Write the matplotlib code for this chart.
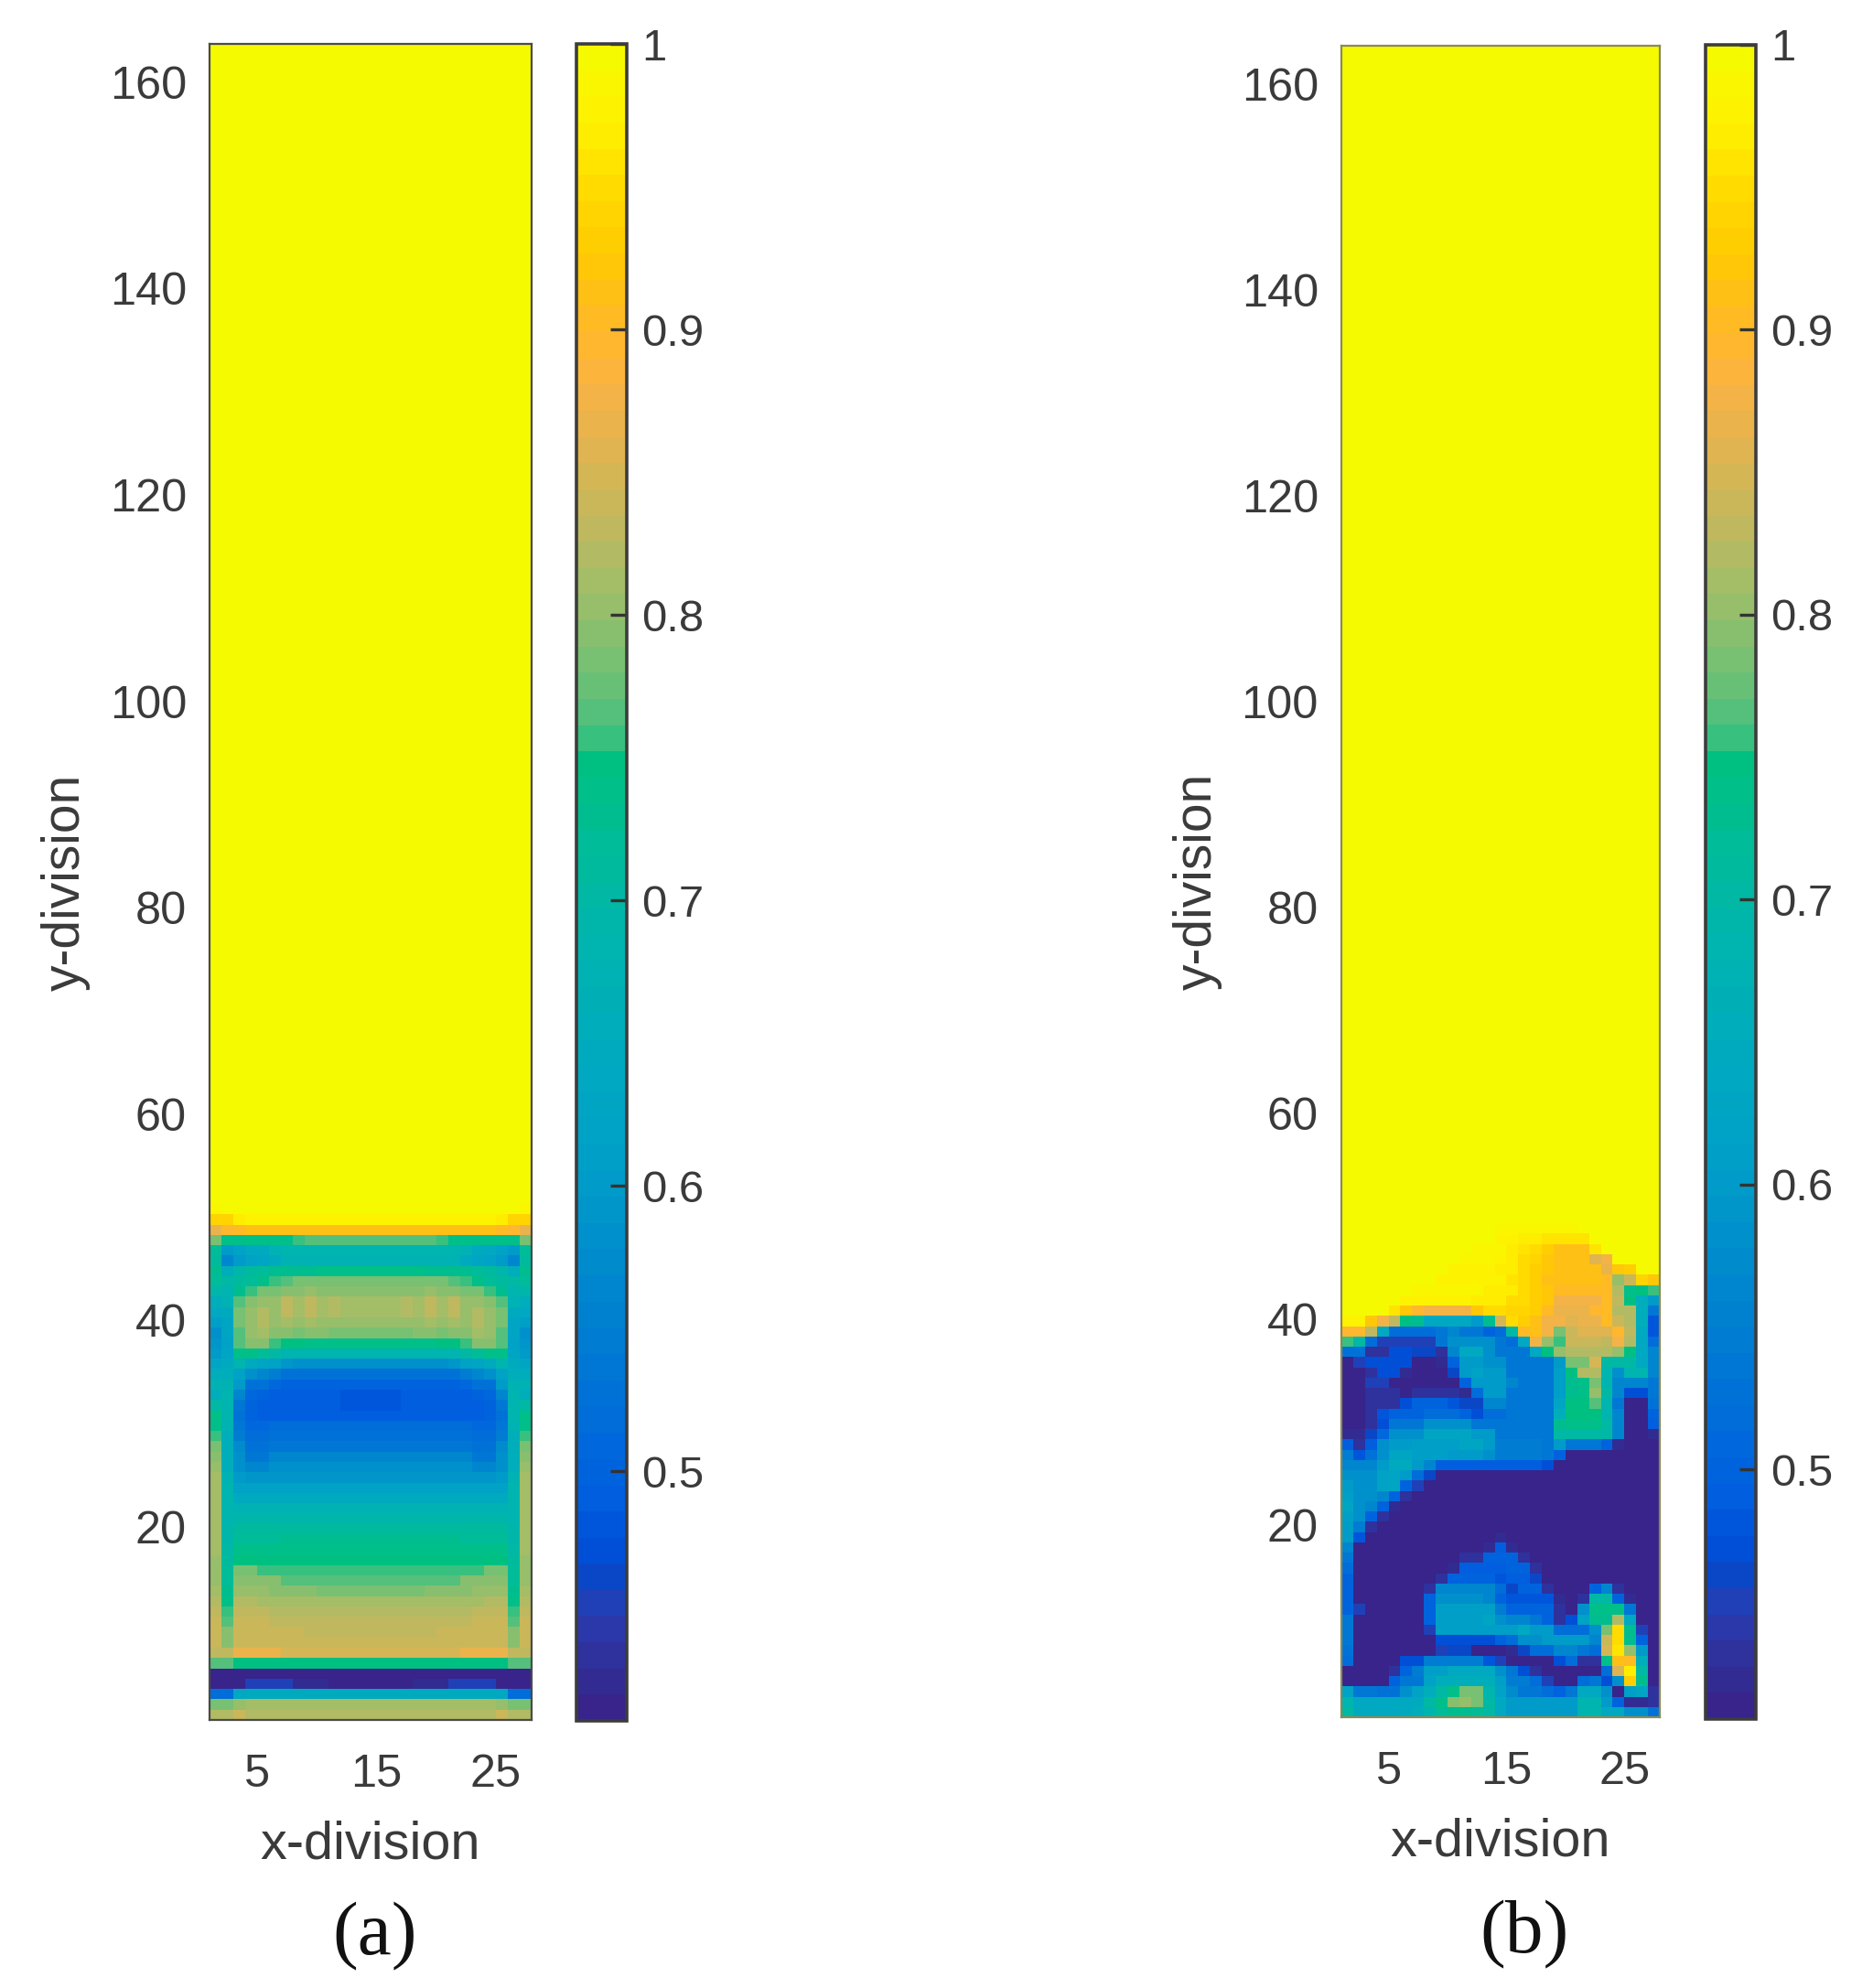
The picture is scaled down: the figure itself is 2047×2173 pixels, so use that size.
import numpy as np
import matplotlib
matplotlib.use("Agg")
import matplotlib.pyplot as plt
from matplotlib.colors import LinearSegmentedColormap, to_rgb

W, H = 2047, 2173
x_ticks = [5, 15, 25]
y_ticks = [20, 40, 60, 80, 100, 120, 140, 160]
cbar_ticks = [0.5, 0.6, 0.7, 0.8, 0.9, 1.0]
cbar_labels = ['0.5', '0.6', '0.7', '0.8', '0.9', '1']
vmin, vmax = 0.4125, 1.0
n_x, n_y = 28, 164
y_start = 1.3
y_limits = (1.3, 163.7)

cmap_values = [.4125,.42,.43,.44,.45,.46,.47,.49,.52,.55,.58,.60,.63,.66,.69,.72,.75,.755,.765,.775,.79,.805,.82,.83,.85,.86,.875,.89,.91,.93,.95,.975,1.0]
cmap_colors = ['#38248a','#332a90','#30309c','#2a38a8','#2040b8','#0848c8','#0050d8','#0060e0','#0070d8','#0080d0','#0090cc','#009cc8','#00a6c4','#00aeb8','#00b6ac','#00bc98','#00c080','#30c080','#50c07c','#66c078','#80c070','#98be6a','#aebc64','#bcb860','#d4b655','#e0b450','#f0b24a','#ffb43a','#ffbb20','#ffcb00','#ffd800','#fff000','#f6fa00']

# percent values, first row = bottom row of cells, above these rows all cells are 100
panel_a_rows = [
[82,82,84,82,82,82,82,82,82,82,82,82,82,82,82,82,82,82,82,82,82,82,82,82,84,82,82],
[78,78,80,81,81,81,81,81,81,81,81,81,81,81,81,81,81,81,81,81,81,81,81,81,80,78,78],
[52,52,64,65,65,65,65,65,65,65,65,65,65,65,65,65,65,65,65,65,65,65,65,65,64,52,52],
[41,41,42,45,45,45,45,43,43,43,41,41,41,41,41,41,41,43,43,43,45,45,45,45,42,41,41],
[41,41,41,41,41,41,41,41,41,41,41,41,41,41,41,41,41,41,41,41,41,41,41,41,41,41,41],
[77,77,75,75,75,75,75,75,75,75,75,75,75,75,75,75,75,75,75,75,75,75,75,75,75,77,77],
[83,83,87,87,87,87,85,85,85,85,85,85,85,85,85,85,85,85,85,85,85,87,87,87,87,83,83],
[84,79,84,84,84,84,84,84,84,84,84,84,84,84,84,84,84,84,84,84,84,84,84,84,84,79,84],
[84,79,84,84,84,84,84,84,83,83,83,83,83,83,83,83,83,83,83,84,84,84,84,84,84,79,84],
[84,77,84,84,84,83,83,83,83,83,83,83,83,83,83,83,83,83,83,83,83,83,84,84,84,77,84],
[83,76,83,83,83,82,82,82,82,82,82,82,82,82,82,82,82,82,82,82,82,82,83,83,83,76,83],
[82,74,82,82,81,81,81,81,81,81,81,81,81,81,81,81,81,81,81,81,81,81,81,82,82,74,82],
[81,73,80,80,80,79,79,79,79,78,78,78,78,78,78,78,78,78,79,79,79,79,80,80,80,73,81],
[80,72,79,79,79,79,77,77,77,77,77,77,77,77,77,77,77,77,77,77,77,79,79,79,79,72,80],
[80,72,78,78,76,76,76,76,76,76,76,76,76,76,76,76,76,76,76,76,76,76,76,78,78,72,80],
[80,71,75,75,75,75,75,75,75,75,75,75,75,75,75,75,75,75,75,75,75,75,75,75,75,71,80],
[81,70,74,74,74,74,74,74,74,74,74,74,74,74,74,74,74,74,74,74,74,74,74,74,74,70,81],
[81,69,72,72,72,72,73,73,73,73,73,73,73,73,73,73,73,73,73,73,73,72,72,72,72,69,81],
[81,69,71,71,71,71,71,71,71,71,71,71,71,71,71,71,71,71,71,71,71,71,71,71,71,69,81],
[81,68,69,69,69,69,69,69,69,69,69,69,69,69,69,69,69,69,69,69,69,69,69,69,69,68,81],
[81,68,67,67,67,67,67,67,67,67,67,67,67,67,67,67,67,67,67,67,67,67,67,67,67,68,81],
[81,68,65,65,65,65,65,65,65,65,65,65,65,65,65,65,65,65,65,65,65,65,65,65,65,68,81],
[81,68,62,62,62,62,62,62,62,62,62,62,62,62,62,62,62,62,62,62,62,62,62,62,62,68,81],
[81,67,60,59,59,59,59,59,59,59,59,59,59,59,59,59,59,59,59,59,59,59,59,59,60,67,81],
[80,66,58,56,56,58,58,58,58,58,58,58,58,58,58,58,58,58,58,58,58,58,56,56,58,66,80],
[79,66,58,54,54,56,56,56,56,56,56,56,56,56,56,56,56,56,56,56,56,56,54,54,58,66,79],
[78,66,57,53,53,54,54,54,54,54,54,54,54,54,54,54,54,54,54,54,54,54,53,53,57,66,78],
[76,66,55,52,52,53,53,53,53,53,53,53,53,53,53,53,53,53,53,53,53,53,52,52,55,66,76],
[74,67,54,51,51,52,52,52,52,52,52,52,52,52,52,52,52,52,52,52,52,52,51,51,54,67,74],
[74,68,53,50,49,49,49,49,49,49,49,49,49,49,49,49,49,49,49,49,49,49,49,50,53,68,74],
[70,68,54,50,49,49,49,49,49,49,49,48,48,48,48,48,49,49,49,49,49,49,49,50,54,68,70],
[66,68,56,51,50,49,49,49,49,49,49,48,48,48,48,48,49,49,49,49,49,49,50,51,56,68,66],
[67,67,60,53,53,51,50,50,50,50,50,50,50,50,50,50,50,50,50,50,50,51,53,53,60,67,67],
[66,66,62,58,56,55,53,53,53,53,53,53,53,53,53,53,53,53,53,53,53,55,56,58,62,66,66],
[63,65,68,65,63,62,59,58,58,58,58,58,58,58,58,58,58,58,58,58,59,62,63,65,68,65,63],
[60,63,74,74,72,70,68,68,68,68,68,68,68,68,68,68,68,68,68,68,68,70,72,74,74,63,60],
[59,62,77,79,79,76,75,75,74,74,74,74,74,74,74,74,74,74,74,75,75,76,79,79,77,62,59],
[58,63,77,80,81,79,79,78,79,79,78,78,78,78,78,78,78,79,79,78,79,79,81,80,77,63,58],
[61,63,78,80,82,80,81,80,81,80,80,80,80,80,80,80,80,80,81,80,81,80,82,80,78,63,61],
[64,65,78,80,82,80,83,81,83,81,82,81,81,81,81,81,82,81,83,81,83,80,82,80,78,65,64],
[66,67,77,79,80,80,83,81,83,81,82,81,81,81,81,81,82,81,83,81,83,80,80,79,77,67,66],
[69,68,73,76,78,78,79,79,80,79,79,79,79,79,79,79,79,79,80,79,79,78,78,76,73,68,69],
[72,70,71,72,74,76,77,78,78,78,78,78,78,78,78,78,78,78,78,78,77,76,74,72,71,70,72],
[73,66,69,71,72,73,73,73,73,74,74,74,74,74,74,74,74,74,73,73,73,73,72,71,69,66,73],
[71,56,60,62,63,65,67,67,67,67,67,67,67,67,67,67,67,67,67,67,67,65,63,62,60,56,71],
[72,60,62,64,65,67,68,68,68,68,68,68,68,68,68,68,68,68,68,68,68,67,65,64,62,60,72],
[78,74,74,74,74,74,74,76,77,77,77,77,77,77,77,77,77,77,77,76,74,74,74,74,74,74,78],
[87,89,90,91,91,91,91,91,91,91,91,91,91,91,91,91,91,91,91,91,91,91,91,91,90,89,87],
[94,94,97,98,98,98,98,98,98,98,98,98,98,98,98,98,98,98,98,98,98,98,98,98,97,94,94],
[99,100,100,100,100,100,100,100,100,100,100,100,100,100,100,100,100,100,100,100,100,100,100,100,100,100,99],
]

panel_b_rows = [
[70,65,64,64,64,65,66,68,72,73,73,72,70,64,60,60,60,60,60,60,68,68,64,64,58,58,53],
[68,64,64,64,64,64,65,70,74,79,80,78,70,64,60,60,60,60,60,60,68,68,60,50,43,43,44],
[62,54,54,53,53,58,62,66,70,74,78,78,68,62,57,54,54,52,50,54,64,64,58,42,61,63,44],
[42,41,41,41,50,54,54,62,66,66,66,66,66,61,55,55,52,45,41,41,52,54,47,58,93,73,41],
[41,41,41,41,44,50,55,61,61,64,64,64,64,58,54,47,44,41,41,41,42,42,52,86,97,70,41],
[52,41,41,41,41,47,47,55,55,55,55,55,48,45,42,42,41,41,47,52,44,44,74,91,90,66,41],
[53,41,41,41,41,41,41,41,45,46,46,42,42,41,43,46,52,52,56,56,54,52,85,96,80,60,41],
[54,41,41,41,41,41,41,41,47,47,47,47,47,50,52,58,58,60,60,60,60,56,84,95,73,50,41],
[54,41,41,41,41,41,41,45,61,61,61,61,61,61,61,64,60,60,52,52,52,58,78,95,73,45,41],
[54,41,41,41,41,41,41,50,61,61,61,61,63,58,56,56,54,50,44,47,62,73,73,82,64,41,41],
[50,45,41,41,41,41,42,50,61,61,61,61,61,55,50,50,50,50,44,41,58,74,74,74,54,41,41],
[50,41,41,41,41,41,42,50,58,58,58,58,56,50,48,48,48,48,43,41,44,70,70,50,43,41,41],
[50,41,41,41,41,41,41,44,56,56,56,56,56,52,46,50,50,44,41,41,41,50,56,44,41,41,41],
[50,41,41,41,41,41,41,41,44,50,50,50,50,48,49,49,46,41,41,41,41,41,42,41,41,41,41],
[52,41,41,41,41,41,41,41,41,43,49,49,49,49,50,50,44,41,41,41,41,41,41,41,41,41,41],
[54,41,41,41,41,41,41,41,41,41,44,44,50,50,50,44,41,41,41,41,41,41,41,41,41,41,41],
[56,41,41,41,41,41,41,41,41,41,41,41,43,49,43,41,41,41,41,41,41,41,41,41,41,41,41],
[60,48,41,41,41,41,41,41,41,41,41,41,41,43,41,41,41,41,41,41,41,41,41,41,41,41,41],
[60,55,44,41,41,41,41,41,41,41,41,41,41,41,41,41,41,41,41,41,41,41,41,41,41,41,41],
[61,58,50,44,41,41,41,41,41,41,41,41,41,41,41,41,41,41,41,41,41,41,41,41,41,41,41],
[63,58,56,50,43,41,41,41,41,41,41,41,41,41,41,41,41,41,41,41,41,41,41,41,41,41,41],
[61,58,58,56,50,44,41,41,41,41,41,41,41,41,41,41,41,41,41,41,41,41,41,41,41,41,41],
[60,58,58,62,63,50,45,41,41,41,41,41,41,41,41,41,41,41,41,41,41,41,41,41,41,41,41],
[58,58,58,62,63,60,52,46,41,41,41,41,41,41,41,41,41,41,41,41,41,41,41,41,41,41,41],
[56,56,56,60,65,65,60,56,49,49,49,49,49,49,49,49,49,47,41,41,41,41,41,41,41,41,41],
[55,48,53,58,63,63,61,61,61,60,60,60,58,55,55,55,55,54,50,42,41,41,41,41,41,41,41],
[49,44,49,58,60,60,61,61,61,61,63,63,60,55,55,55,55,54,60,54,54,54,50,43,41,41,41],
[43,43,46,51,58,58,58,63,63,63,63,60,60,54,54,54,54,54,70,70,70,70,70,56,41,41,43],
[41,41,44,47,54,54,54,58,58,58,58,54,54,54,54,54,54,54,73,74,74,74,70,56,41,41,49],
[41,41,44,48,50,50,50,52,52,52,50,47,52,52,54,54,54,54,66,75,75,75,68,56,41,41,50],
[41,41,44,44,44,47,50,50,50,48,46,46,56,56,54,54,54,54,63,75,75,77,68,54,41,41,53],
[41,41,44,44,44,42,44,44,44,44,43,52,60,60,54,54,54,54,61,73,74,80,70,56,47,47,54],
[41,41,45,45,41,41,41,41,41,41,50,60,60,60,56,54,54,54,61,73,74,78,68,56,56,56,54],
[41,41,44,47,47,43,41,41,41,46,60,62,60,60,54,54,54,54,61,75,82,82,68,58,68,68,56],
[42,45,47,47,47,47,41,41,43,50,60,60,58,58,54,54,54,54,60,78,78,85,70,70,70,64,56],
[53,53,44,44,47,47,46,46,44,56,64,64,58,54,54,54,64,75,80,82,82,82,82,80,75,64,56],
[76,70,52,45,45,45,45,45,54,58,58,58,58,54,52,64,88,80,76,84,84,84,83,88,82,64,52],
[89,89,83,64,52,52,52,52,54,56,54,54,50,52,70,90,91,88,78,84,86,86,86,89,83,64,48],
[98,98,92,88,83,75,73,64,64,64,64,60,73,85,95,93,91,88,88,86,87,87,90,84,82,66,48],
[100,100,100,100,96,92,89,88,88,88,88,92,95,95,94,94,93,90,87,87,87,89,90,82,82,66,54],
[100,100,100,100,100,98,98,98,98,98,98,97,97,97,95,95,93,92,88,88,88,88,90,83,75,66,60],
[100,100,100,100,100,100,99,99,99,99,99,99,97,97,97,95,93,92,90,90,90,90,90,82,74,75,76],
[100,100,100,100,100,100,100,100,98,98,98,98,98,98,96,95,93,91,91,91,91,91,90,80,84,94,92],
[100,100,100,100,100,100,100,100,100,98,98,98,98,97,97,95,93,92,91,91,91,91,87,92,93,100,100],
[100,100,100,100,100,100,100,100,100,100,99,99,99,98,97,95,94,92,91,91,91,86,88,100,100,100,100],
[100,100,100,100,100,100,100,100,100,100,100,99,99,99,97,96,95,93,91,91,91,96,100,100,100,100,100],
[100,100,100,100,100,100,100,100,100,100,100,100,100,98,98,97,97,96,96,96,96,100,100,100,100,100,100],
[100,100,100,100,100,100,100,100,100,100,100,100,100,99,99,99,99,99,99,99,100,100,100,100,100,100,100],
]

pos = [(v - vmin) / (vmax - vmin) for v in cmap_values]
cmap = LinearSegmentedColormap.from_list('bar', list(zip(pos, [to_rgb(c) for c in cmap_colors])), N=64)

plt.rcParams['font.family'] = ['Liberation Sans', 'DejaVu Sans']
fig = plt.figure(figsize=(W / 100, H / 100), dpi=100, facecolor='white')
TXT = '#3a3a3a'

def box(l, t, r, b):
    return [l / W, 1 - b / H, (r - l) / W, (b - t) / H]

def panel(rows, ax_box, cb_box, spine, tag, tag_xy):
    grid = np.ones((n_y - 1, n_x - 1))
    arr = np.array(rows, dtype=float) / 100.0
    grid[:arr.shape[0], :] = arr
    ax = fig.add_axes(box(*ax_box))
    m = ax.pcolormesh(np.arange(1, n_x + 1), y_start + np.arange(n_y), grid,
                      cmap=cmap, vmin=vmin, vmax=vmax, shading='flat', rasterized=True)
    ax.set_xlim(1, n_x)
    ax.set_ylim(*y_limits)
    ax.set_xticks(x_ticks)
    ax.set_yticks(y_ticks)
    ax.tick_params(direction='in', length=0, labelcolor=TXT, labelsize=36.3)
    ax.tick_params(axis='y', pad=18)
    ax.tick_params(axis='x', pad=26.5)
    for s in ax.spines.values():
        s.set_color(spine)
        s.set_linewidth(1.6)
    ax.set_xlabel('x-division', fontsize=41.5, color=TXT, labelpad=19)
    ax.set_ylabel('y-division', fontsize=41, color=TXT, labelpad=15)
    cax = fig.add_axes(box(*cb_box))
    cb = fig.colorbar(m, cax=cax)
    cb.set_ticks(cbar_ticks)
    cb.set_ticklabels(cbar_labels)
    cb.ax.tick_params(direction='in', length=13, width=2.4, color='#333333', labelcolor=TXT, labelsize=35.4, pad=11.5)
    cb.outline.set_edgecolor('#3c3c3c')
    cb.outline.set_linewidth(2.6)
    fig.text(tag_xy[0] / W, 1 - tag_xy[1] / H, tag, family=['Liberation Serif'], fontsize=60,
             color='#111111', ha='center', va='center')

panel(panel_a_rows, (229, 48, 581, 1880), (630, 48, 685, 1881), '#4a4a4a', '(a)', (410, 2117))
panel(panel_b_rows, (1466, 50, 1814, 1877), (1864, 49, 1919, 1879), '#8a8a55', '(b)', (1666, 2115))

fig.savefig('out.png', dpi=100, facecolor='white')
